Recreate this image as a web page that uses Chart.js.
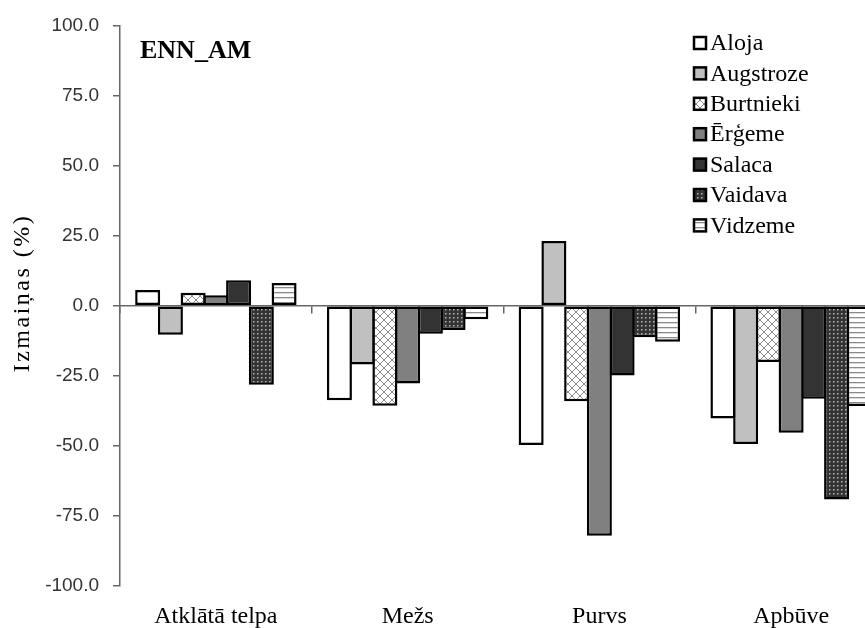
<!DOCTYPE html>
<html>
<head>
<meta charset="utf-8">
<script src="https://cdn.jsdelivr.net/npm/chart.js@4/dist/chart.umd.min.js"></script>
<style>
  html, body { margin: 0; padding: 0; background: #fff; overflow: hidden; }
  #wrap { width: 890px; height: 628px; }
</style>
</head>
<body>
<div id="wrap"><canvas id="c" width="890" height="628"></canvas></div>
<script>
// Land-cover classes along the x axis
const categories = ['Atklātā telpa', 'Mežs', 'Purvs', 'Apbūve'];

// Change of ENN_AM per area, %
const aloja     = [5.6, -33.7, -49.7, -40.2];
const augstroze = [-10.4, -21.0, 23.1, -49.3];
const burtnieki = [4.6, -35.7, -34.1, -20.1];
const ergeme    = [3.7, -27.8, -82.1, -45.3];
const salaca    = [9.1, -10.0, -24.9, -33.2];
const vaidava   = [-28.2, -8.7, -11.3, -69.1];
const vidzeme   = [8.1, -4.8, -12.9, -35.8];

const seriesNames = ['Aloja', 'Augstroze', 'Burtnieki', 'Ērģeme', 'Salaca', 'Vaidava', 'Vidzeme'];
const seriesValues = [aloja, augstroze, burtnieki, ergeme, salaca, vaidava, vidzeme];

const yTickValues = [-100, -75, -50, -25, 0, 25, 50, 75, 100];
const chartLabel = 'ENN_AM';
const yTitle = 'Izmaiņas (%)';

const serif = '"Liberation Serif", "Times New Roman", serif';

// Fill patterns
function tile(size, paint) {
  const t = document.createElement('canvas');
  t.width = size; t.height = size;
  const g = t.getContext('2d');
  paint(g, size);
  return g.createPattern(t, 'repeat');
}
const ctxMain = document.getElementById('c').getContext('2d');
const crossHatch = tile(8, (g, s) => {
  g.fillStyle = '#fff'; g.fillRect(0, 0, s, s);
  g.strokeStyle = '#8a8a8a'; g.lineWidth = 1;
  g.beginPath();
  g.moveTo(0, 0); g.lineTo(s, s);
  g.moveTo(s, 0); g.lineTo(0, s);
  g.stroke();
});
const dots = tile(4, (g, s) => {
  g.fillStyle = '#333'; g.fillRect(0, 0, s, s);
  g.fillStyle = '#b5b5b5'; g.fillRect(1, 1, 1.5, 1.5);
});
const hLines = tile(5, (g, s) => {
  g.fillStyle = '#fff'; g.fillRect(0, 0, s, s);
  g.fillStyle = '#8a8a8a'; g.fillRect(0, 2, s, 1.3);
});

const fills = ['#ffffff', '#c0c0c0', crossHatch, '#808080', '#333333', dots, hLines];

const datasets = seriesNames.map((name, i) => ({
  label: name,
  data: seriesValues[i],
  backgroundColor: fills[i],
  borderColor: '#000',
  borderWidth: 2.5,
  borderSkipped: false,
  inflateAmount: 0,
  barPercentage: 1.1,
  categoryPercentage: 0.83
}));

// Legend, panel label and rotated axis title drawn over the chart
const overlay = {
  id: 'overlay',
  afterDraw(chart) {
    const ctx = chart.ctx;
    ctx.save();
    ctx.fillStyle = '#000';
    ctx.font = 'bold 26px ' + serif;
    ctx.textBaseline = 'middle';
    ctx.textAlign = 'left';
    ctx.fillText(chartLabel, 140, 51);

    ctx.font = '24px ' + serif;
    const x0 = 694, y0 = 43, step = 30.4, box = 12;
    chart.data.datasets.forEach((ds, i) => {
      const cy = y0 + i * step;
      ctx.fillStyle = ds.backgroundColor;
      ctx.fillRect(x0, cy - box / 2, box, box);
      ctx.lineWidth = 2.5;
      ctx.strokeStyle = '#000';
      ctx.strokeRect(x0, cy - box / 2, box, box);
      ctx.fillStyle = '#000';
      ctx.fillText(ds.label, x0 + box + 4, cy + 1);
    });

    // y axis title
    ctx.translate(23, 293);
    ctx.rotate(-Math.PI / 2);
    ctx.textAlign = 'center';
    ctx.font = '24px ' + serif;
    if ('letterSpacing' in ctx) ctx.letterSpacing = '2.5px';
    ctx.fillText(yTitle, 0, 0);
    ctx.restore();
  }
};

new Chart(ctxMain, {
  type: 'bar',
  data: { labels: categories, datasets },
  plugins: [overlay],
  options: {
    responsive: false,
    animation: false,
    layout: { padding: { top: 21, right: 3, bottom: 0, left: 0 } },
    plugins: { legend: { display: false }, tooltip: { enabled: false } },
    scales: {
      x: {
        type: 'category',
        position: { y: 0 },
        offset: true,
        grid: { display: true, drawOnChartArea: false, drawTicks: true, tickLength: 7, offset: true, color: '#666', lineWidth: 1.5 },
        border: { display: true, color: '#666', width: 1.5 },
        ticks: { display: false }
      },
      x2: {
        type: 'category',
        labels: categories,
        position: 'bottom',
        offset: true,
        grid: { display: false, drawTicks: false },
        border: { display: false },
        ticks: {
          color: '#000',
          padding: 16,
          font: { family: serif, size: 24 }
        },
        afterFit(s) { s.height = 42; }
      },
      y: {
        min: -100,
        max: 100,
        afterBuildTicks(s) { s.ticks = yTickValues.map(v => ({ value: v })); },
        grid: { display: true, drawOnChartArea: false, drawTicks: true, tickLength: 7, color: '#666', lineWidth: 1.5 },
        border: { display: true, color: '#666', width: 1.5 },
        ticks: {
          color: '#333',
          padding: 14,
          font: { family: '"Liberation Sans", Arial, sans-serif', size: 19 },
          callback: v => Number(v).toFixed(1)
        },
        afterFit(s) { s.width = 120; }
      }
    }
  }
});
</script>
</body>
</html>
